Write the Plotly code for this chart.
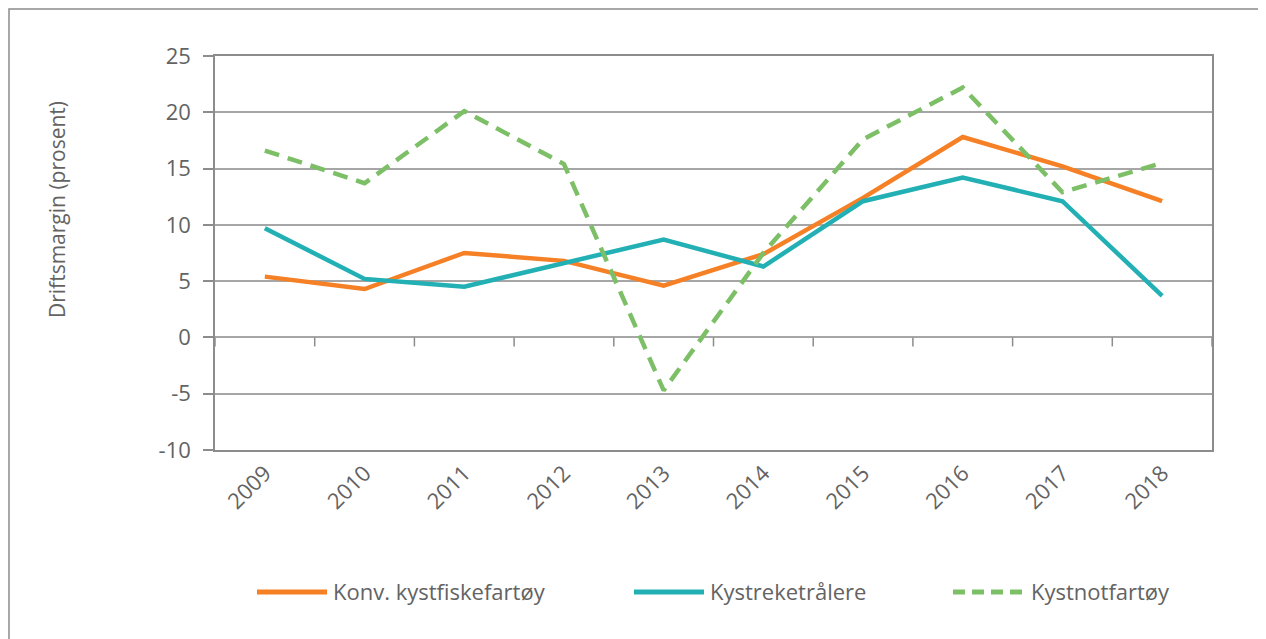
import plotly.graph_objects as go

years = ["2009", "2010", "2011", "2012", "2013", "2014", "2015", "2016", "2017", "2018"]
konv = [5.4, 4.3, 7.5, 6.8, 4.6, 7.4, 12.4, 17.8, 15.2, 12.1]
reke = [9.7, 5.2, 4.5, 6.6, 8.7, 6.3, 12.1, 14.2, 12.1, 3.7]
not_ = [16.6, 13.7, 20.1, 15.4, -4.7, 7.5, 17.6, 22.2, 12.9, 15.5]
y_ticks = [25, 20, 15, 10, 5, 0, -5, -10]
y_tick_text = ["25", "20", "15", "10", "5", "0", "-5", "-10"]

names = ["Konv. kystfiskefartøy", "Kystreketrålere", "Kystnotfartøy"]
colors = ["#F58025", "#22B0B5", "#7CBF66"]
dashes = ["solid", "solid", "15px,9px"]
series = [konv, reke, not_]

OFF = 8  # page body margin
W, H = 1266 - OFF, 639 - OFF
PL, PR, PT, PB = 215, 1212, 56, 450
L, T = PL - OFF, PT - OFF
pw, ph = PR - PL, PB - PT
R, B = W - L - pw, H - T - ph

FONT = "Open Sans"
GREY = "#636363"
AX = "#8C8C8C"

def px2x(px):
    return (px - PL) / pw
def px2y(py):
    return (PB - py) / ph

fig = go.Figure()
for n, c, d, s in zip(names, colors, dashes, series):
    fig.add_trace(go.Scatter(x=list(range(len(years))), y=s, mode="lines", name=n,
                             line=dict(color=c, width=4.5, dash=d), showlegend=False))

shapes = []
for i in range(len(years) + 1):
    shapes.append(dict(type="line", xref="x", yref="y", x0=i - 0.5, x1=i - 0.5,
                       ysizemode="pixel", yanchor=0, y0=0, y1=-9,
                       line=dict(color=AX, width=1.5)))
shapes.append(dict(type="rect", xref="paper", yref="paper",
                   x0=px2x(9), x1=px2x(1280), y0=px2y(650), y1=px2y(9),
                   line=dict(color="#8C8C8C", width=1.5), layer="below"))

annotations = []
leg = [(257, 327, 331), (634, 704, 708), (953, 1025, 1029)]
for (x0, x1, xt), n, c, d in zip(leg, names, colors, dashes):
    shapes.append(dict(type="line", xref="paper", yref="paper",
                       x0=px2x(x0), x1=px2x(x1), y0=px2y(592), y1=px2y(592),
                       line=dict(color=c, width=5, dash=("12px,7px" if d != "solid" else "solid"))))
    annotations.append(dict(xref="paper", yref="paper", x=px2x(xt), y=px2y(591),
                            text=n, showarrow=False, xanchor="left", yanchor="middle",
                            font=dict(family=FONT, size=22, color=GREY)))
annotations.append(dict(xref="paper", yref="paper", x=px2x(57), y=px2y(210),
                        text="Driftsmargin (prosent)", showarrow=False, textangle=-90,
                        xanchor="center", yanchor="middle",
                        font=dict(family=FONT, size=21, color=GREY)))

fig.update_layout(
    width=W, height=H,
    margin=dict(l=L, r=R, t=T, b=B),
    paper_bgcolor="white", plot_bgcolor="white",
    shapes=shapes, annotations=annotations,
    font=dict(family=FONT, color=GREY),
    xaxis=dict(range=[-0.5, len(years) - 0.5], tickmode="array",
               tickvals=list(range(len(years))), ticktext=years, tickangle=-45,
               showgrid=False, zeroline=False, ticks="", showline=True, mirror=True,
               linecolor=AX, linewidth=1.5, tickfont=dict(size=22, color=GREY, family=FONT)),
    yaxis=dict(range=[-10, 25], tickmode="array", tickvals=y_ticks, ticktext=y_tick_text,
               showgrid=True, gridcolor="#A6A6A6", gridwidth=1.5, zeroline=False,
               ticks="outside", ticklen=10, tickcolor=AX, tickwidth=1.5,
               ticklabelstandoff=8,
               showline=True, mirror=True, linecolor=AX, linewidth=1.5,
               tickfont=dict(size=22, color=GREY, family=FONT)),
)
fig.write_html("out.html")
